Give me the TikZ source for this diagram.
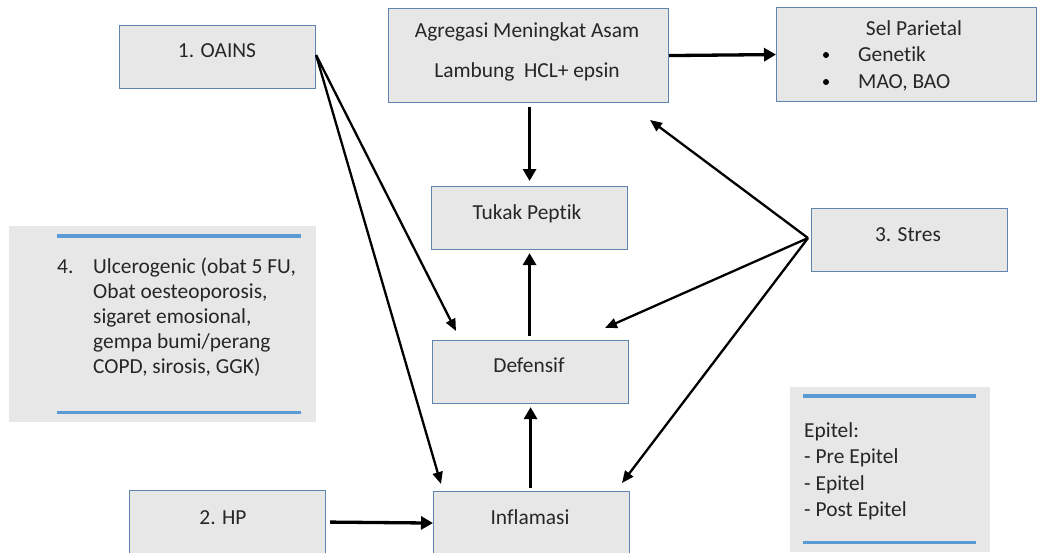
\documentclass[tikz,border=0pt]{standalone}
\usepackage{fontspec}
\setmainfont[Ligatures=NoCommon]{Carlito}
\usetikzlibrary{arrows.meta,calc}
\definecolor{boxfill}{HTML}{E7E7E7}
\definecolor{boxline}{HTML}{5F84AD}
\definecolor{accent}{HTML}{5B9BD5}
\begin{document}
\begin{tikzpicture}[x=1pt,y=-1pt,
  box/.style={draw=boxline,line width=1.1pt,fill=boxfill,inner sep=0pt,anchor=north west},
  panel/.style={fill=boxfill,inner sep=0pt,anchor=north west},
  txt/.style={font=\fontsize{21.4}{25}\selectfont,inner sep=0pt,text=black!85,anchor=base},
  ltxt/.style={txt,anchor=base west},
  thickarrow/.style={line width=3.3pt,-{Triangle[length=12pt,width=13pt]}},
  thinarrow/.style={line width=2.3pt,-{Triangle[length=12pt,width=10pt]}},
  rule/.style={draw=accent,line width=3.5pt}]
\useasboundingbox (0,0) rectangle (1046,552);
% boxes
\node[box,minimum width=196pt,minimum height=63pt] (oains) at (119,25) {};
\node[box,minimum width=280pt,minimum height=94pt] (agr) at (388,8) {};
\node[box,minimum width=260pt,minimum height=94pt] (sel) at (776,7) {};
\node[box,minimum width=196pt,minimum height=63pt] (tukak) at (431,186) {};
\node[box,minimum width=196pt,minimum height=63pt] (stres) at (811,208) {};
\node[box,minimum width=196pt,minimum height=63pt] (def) at (432,340) {};
\node[box,minimum width=196pt,minimum height=63pt] (infl) at (433,491) {};
\node[box,minimum width=196pt,minimum height=63pt] (hp) at (129,490) {};
\node[panel,minimum width=307pt,minimum height=196pt] (ulc) at (9,226) {};
\node[panel,minimum width=200pt,minimum height=165pt] (epi) at (790,387) {};
% texts
\node[txt] (oains-t) at (217,57) {1. OAINS};
\node[txt] (agr-t1) at (527,37) {Agregasi Meningkat Asam};
\node[txt] (agr-t2) at (527,77) {Lambung\ \ HCL+ epsin};
\node[txt] (sel-t) at (914,35) {Sel Parietal};
\node[ltxt] (sel-b1) at (858,61) {Genetik};
\node[ltxt] (sel-b2) at (858,88) {MAO, BAO};
\node[circle,fill=black,inner sep=0pt,minimum size=6pt] (dot1) at (826,55) {};
\node[circle,fill=black,inner sep=0pt,minimum size=6pt] (dot2) at (826,82) {};
\node[txt] (tukak-t) at (527,219) {Tukak Peptik};
\node[txt] (stres-t) at (908,241) {3. Stres};
\node[txt] (def-t) at (529,372) {Defensif};
\node[txt] (infl-t) at (530,524) {Inflamasi};
\node[txt] (hp-t) at (223,524) {2. HP};
\node[ltxt] (ulc-n) at (57,273) {4.};
\node[ltxt] (ulc-1) at (93,273) {Ulcerogenic (obat 5 FU,};
\node[ltxt] (ulc-2) at (93,298) {Obat oesteoporosis,};
\node[ltxt] (ulc-3) at (93,323) {sigaret emosional,};
\node[ltxt] (ulc-4) at (93,348) {gempa bumi/perang};
\node[ltxt] (ulc-5) at (93,373) {COPD, sirosis, GGK)};
\node[ltxt] (epi-1) at (804,437) {Epitel:};
\node[ltxt] (epi-2) at (804,463) {- Pre Epitel};
\node[ltxt] (epi-3) at (804,490) {- Epitel};
\node[ltxt] (epi-4) at (804,516) {- Post Epitel};
% rules
\draw[rule] ($(ulc.north west)+(48,10)$) -- ($(ulc.north west)+(292,10)$);
\draw[rule] ($(ulc.south west)+(48,-10)$) -- ($(ulc.south west)+(292,-10)$);
\draw[rule] ($(epi.north west)+(13,9)$) -- ($(epi.north west)+(186,9)$);
\draw[rule] ($(epi.south west)+(13,-10)$) -- ($(epi.south west)+(186,-10)$);
% connector end points
\coordinate (e-agr) at (650,120);
\coordinate (e-def-l) at (456,331);
\coordinate (e-def-r) at (605,328);
\coordinate (e-infl-l) at (441,484);
\coordinate (e-infl-r) at (622,483);
% connectors
\draw[thickarrow] (agr.east) -- (sel.west);
\draw[thickarrow,shorten <=4pt,shorten >=5pt] (agr.south -| tukak.north) -- (tukak.north);
\draw[thickarrow,shorten <=4pt,shorten >=3pt] (def.north -| tukak.south) -- (tukak.south);
\draw[thickarrow,shorten <=3pt,shorten >=3pt] (infl.north -| def.south) -- (def.south);
\draw[thickarrow,shorten <=4pt] (hp.east) -- (infl.west);
\draw[thinarrow] ($(oains.east)+(0,-2)$) -- (e-def-l);
\draw[thinarrow] ($(oains.east)+(0,-2)$) -- (e-infl-l);
\draw[thinarrow] ($(stres.west)+(-3,-2)$) -- (e-agr);
\draw[thinarrow] ($(stres.west)+(-3,-2)$) -- (e-def-r);
\draw[thinarrow] ($(stres.west)+(-3,-2)$) -- (e-infl-r);
\end{tikzpicture}
\end{document}
